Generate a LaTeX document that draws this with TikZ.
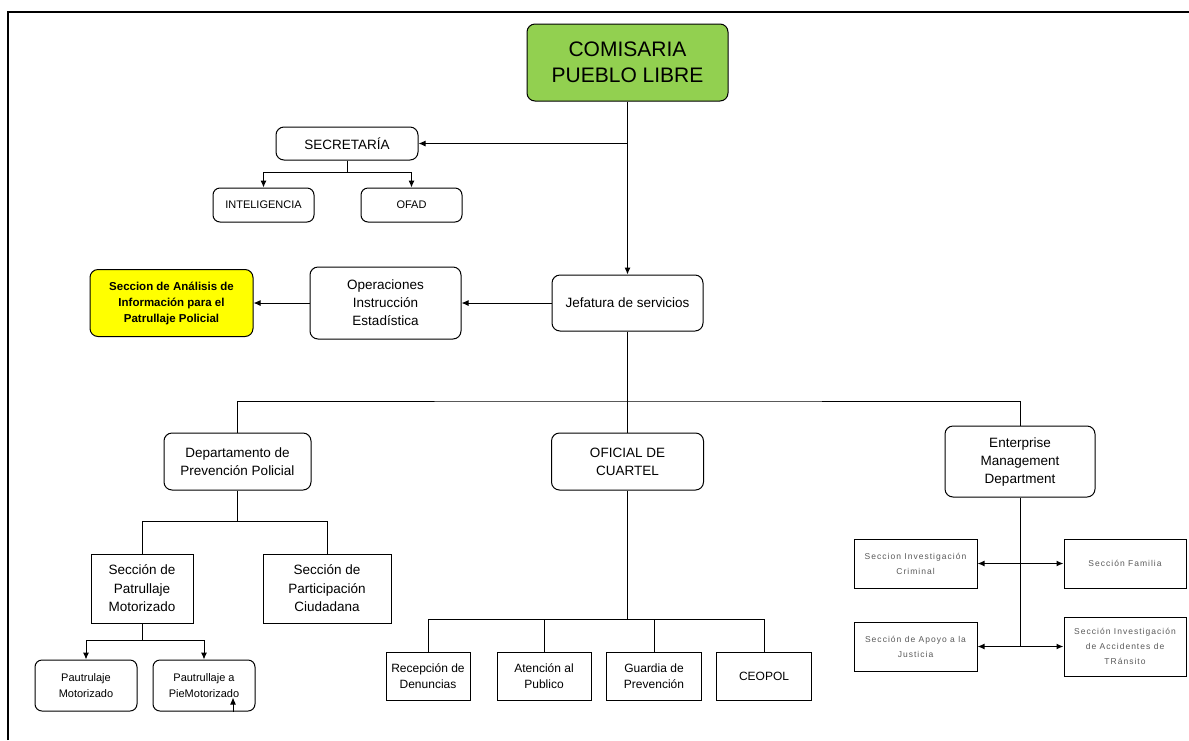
\documentclass[tikz,border=0pt]{standalone}
\usepackage{fontspec}
\setsansfont{Liberation Sans}
\newfontfamily\spacedsans[LetterSpace=12]{Liberation Sans}
\usepackage{xcolor}
\usepackage{tikz}
\usetikzlibrary{
    arrows.meta,
    positioning
}
\definecolor{comisaria}{HTML}{92D050}
\definecolor{analisis}{HTML}{FFFF00}
\tikzstyle{arrow} = [
    line width=1pt,
    -{Latex[length=7pt,width=6pt]}
]
\tikzstyle{twoway} = [
    line width=1.3pt,
    {Latex[length=7pt,width=6pt]}-{Latex[length=7pt,width=6pt]}
]
\tikzstyle{line} = [
    line width=1pt
]

\begin{document}
\begin{tikzpicture}[
    x=1pt, y=-1pt,
    font=\sffamily,
    node distance=14pt and 14pt,
    unit/.style={
        draw,
        line width=1pt,
        rounded corners=8pt,
        align=center,
        inner sep=0pt,
        fill=white,
        font=\sffamily\fontsize{13.5}{18}\selectfont
    },
    small/.style={
        unit,
        rounded corners=7pt,
        font=\sffamily\fontsize{11}{16}\selectfont
    },
    sect/.style={
        draw,
        line width=1pt,
        align=center,
        inner sep=0pt,
        fill=white,
        font=\sffamily\fontsize{13.5}{18.5}\selectfont
    },
    sectsmall/.style={
        sect,
        font=\sffamily\fontsize{12}{16}\selectfont
    },
    tiny/.style={
        sect,
        text=black!65,
        font=\spacedsans\fontsize{8.5}{15}\selectfont
    }
]
\useasboundingbox (0,0) rectangle (1189,740);

% Rahmen
\draw[line width=2.5pt] (8,740) -- (8,12) -- (1189,12);

% Leitung
\node[unit, fill=comisaria, minimum width=201pt, minimum height=77pt,
      font=\sffamily\fontsize{21}{26}\selectfont] (comisaria) at (627.5,62.5)
    {COMISARIA\\PUEBLO LIBRE};

\node[unit, minimum width=142pt, minimum height=33pt] (secretaria) at (347,143.5)
    {SECRETARÍA};
\node[small, minimum width=101pt, minimum height=34pt] (inteligencia) at (263.5,205)
    {INTELIGENCIA};
\node[small, minimum width=101pt, minimum height=34pt, right=46pt of inteligencia] (ofad)
    {OFAD};

\node[unit, minimum width=151pt, minimum height=56pt] (jefatura) at (627.5,303)
    {Jefatura de servicios};
\node[unit, minimum width=151pt, minimum height=72pt, left=90pt of jefatura] (operaciones)
    {Operaciones\\Instrucción\\Estadística};
\node[unit, fill=analisis, minimum width=163pt, minimum height=67pt,
      font=\sffamily\bfseries\fontsize{11.5}{16}\selectfont, left=56pt of operaciones] (analisis)
    {Seccion de Análisis de\\Información para el\\Patrullaje Policial};

% Departamentos
\node[unit, minimum width=147pt, minimum height=57pt] (departamento) at (237.5,461.5)
    {Departamento de\\Prevención Policial};
\node[unit, minimum width=152pt, minimum height=57pt] (oficial) at (627.5,461.5)
    {OFICIAL DE\\CUARTEL};
\node[unit, minimum width=150pt, minimum height=71pt] (enterprise) at (1020,461.5)
    {Enterprise\\Management\\Department};

% Secciones
\node[sect, minimum width=102pt, minimum height=69pt] (patrullaje) at (142,588.5)
    {Sección de\\Patrullaje\\Motorizado};
\node[sect, minimum width=128pt, minimum height=69pt, right=69pt of patrullaje] (participacion)
    {Sección de\\Participación\\Ciudadana};

\node[small, minimum width=102pt, minimum height=51pt] (pmoto) at (86,685.5)
    {Pautrulaje\\Motorizado};
\node[small, minimum width=102pt, minimum height=51pt, right=15pt of pmoto] (ppie)
    {Pautrullaje a\\PieMotorizado};

\node[sectsmall, minimum width=84pt, minimum height=48pt] (recepcion) at (428,676)
    {Recepción de\\Denuncias};
\node[sectsmall, minimum width=94pt, minimum height=48pt, right=26pt of recepcion] (atencion)
    {Atención al\\Publico};
\node[sectsmall, minimum width=95pt, minimum height=48pt, right=14.5pt of atencion] (guardia)
    {Guardia de\\Prevención};
\node[sectsmall, minimum width=95pt, minimum height=48pt, right=14pt of guardia] (ceopol)
    {CEOPOL};

\node[tiny, minimum width=123pt, minimum height=49pt] (criminal) at (915.5,563.5)
    {Seccion Investigación\\Criminal};
\node[tiny, minimum width=122pt, minimum height=49pt, right=86pt of criminal] (familia)
    {Sección Familia};
\node[tiny, minimum width=123pt, minimum height=49pt] (apoyo) at (915.5,646.5)
    {Sección de Apoyo a la\\Justicia};
\node[tiny, minimum width=122pt, minimum height=59pt, right=86pt of apoyo] (accidentes)
    {Sección Investigación\\de Accidentes de\\TRánsito};

% Verbindungen
\draw[arrow] (comisaria.south) -- (jefatura.north);
\draw[arrow] (comisaria.south |- secretaria.east) -- (secretaria.east);
\draw[arrow] (secretaria.south) -- ++(0,12) -| (inteligencia.north);
\draw[arrow] (secretaria.south) -- ++(0,12) -| (ofad.north);
\draw[arrow] (jefatura.west) -- (operaciones.east);
\draw[arrow] (operaciones.west) -- (analisis.east);

\coordinate (bus1) at (627.5,401);
\draw[line] (jefatura.south) -- (oficial.north);
\draw[line] (departamento.north) |- (bus1) -| (enterprise.north);

\draw[line] (departamento.south) -- ++(0,31) coordinate (bus2);
\draw[line] (patrullaje.north) |- (bus2) -| (participacion.north);

\draw[line] (patrullaje.south) -- ++(0,17) coordinate (bus3);
\draw[arrow] (bus3) -| (pmoto.north);
\draw[arrow] (bus3) -| (ppie.north);
\draw[arrow] ([xshift=29pt]ppie.south) -- ++(0,-14);

\coordinate (bus4) at (627.5,619);
\draw[line] (oficial.south) -- (bus4);
\draw[line] (recepcion.north) |- (bus4) -| (ceopol.north);
\draw[line] (atencion.north) -- (atencion.north |- bus4);
\draw[line] (guardia.north) -- (guardia.north |- bus4);

\draw[line] (enterprise.south) -- (enterprise.south |- apoyo.east);
\draw[twoway] (criminal.east) -- (familia.west);
\draw[twoway] (apoyo.east) -- (accidentes.west);

\end{tikzpicture}
\end{document}
